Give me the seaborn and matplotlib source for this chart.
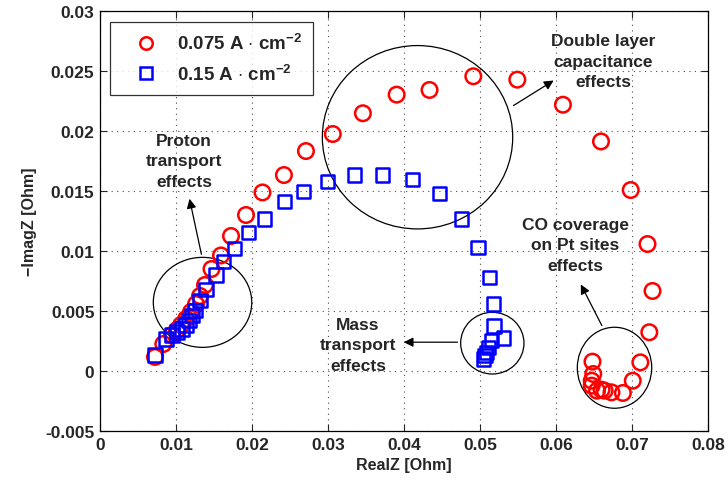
import matplotlib
matplotlib.use("Agg")
import matplotlib.pyplot as plt
import seaborn as sns
import pandas as pd
from matplotlib.patches import Ellipse
from matplotlib.lines import Line2D

# ---- data ----
red_x = [0.00724, 0.00833, 0.00947, 0.01013, 0.01066, 0.01132, 0.01197, 0.01263, 0.01316, 0.01382,
         0.01467, 0.01592, 0.01724, 0.01921, 0.02138, 0.02420, 0.02710, 0.03063, 0.03459, 0.03903,
         0.04336, 0.04912, 0.05491, 0.06091, 0.06592, 0.06983, 0.07204, 0.07270, 0.07228, 0.07110,
         0.07010, 0.06880, 0.06730, 0.06640, 0.06600, 0.06540, 0.06470, 0.06470, 0.06490, 0.06480]
red_y = [0.00117, 0.00225, 0.00300, 0.00342, 0.00383, 0.00433, 0.00492, 0.00558, 0.00625, 0.00717,
         0.00850, 0.00963, 0.01125, 0.01300, 0.01488, 0.01633, 0.01833, 0.01975, 0.02148, 0.02303,
         0.02342, 0.02456, 0.02428, 0.02219, 0.01913, 0.01508, 0.01058, 0.00667, 0.00323, 0.00072,
         -0.00081, -0.00183, -0.00178, -0.00164, -0.00156, -0.00164, -0.00122, -0.00081, -0.00025, 0.00078]

blue_x = [0.00724, 0.00868, 0.00947, 0.01013, 0.01079, 0.01132, 0.01171, 0.01210, 0.01250, 0.01316,
          0.01395, 0.01526, 0.01625, 0.01771, 0.01955, 0.02168, 0.02430, 0.02680, 0.02993, 0.03346,
          0.03713, 0.04109, 0.04468, 0.04760, 0.04974, 0.05122, 0.05175, 0.05184, 0.05309, 0.05154,
          0.05110, 0.05088, 0.05066, 0.05043]
blue_y = [0.00133, 0.00267, 0.00300, 0.00325, 0.00350, 0.00383, 0.00419, 0.00461, 0.00503, 0.00586,
          0.00678, 0.00800, 0.00913, 0.01023, 0.01156, 0.01267, 0.01413, 0.01498, 0.01581, 0.01633,
          0.01633, 0.01594, 0.01478, 0.01267, 0.01029, 0.00781, 0.00558, 0.00375, 0.00275, 0.00253,
          0.00198, 0.00156, 0.00128, 0.00100]

series_labels = [r"0.075 A $\cdot$ cm$^{-2}$", r"0.15 A $\cdot$ cm$^{-2}$"]
x_ticks = [0, 0.01, 0.02, 0.03, 0.04, 0.05, 0.06, 0.07, 0.08]
x_ticklabels = ["0", "0.01", "0.02", "0.03", "0.04", "0.05", "0.06", "0.07", "0.08"]
y_ticks = [-0.005, 0, 0.005, 0.01, 0.015, 0.02, 0.025, 0.03]
y_ticklabels = ["-0.005", "0", "0.005", "0.01", "0.015", "0.02", "0.025", "0.03"]

# ---- style ----
sns.set_style("ticks")
plt.rcParams["font.family"] = ["Liberation Sans", "DejaVu Sans"]
plt.rcParams["font.weight"] = "bold"
plt.rcParams["mathtext.fontset"] = "custom"
plt.rcParams["mathtext.rm"] = "Liberation Sans:bold"
plt.rcParams["mathtext.bf"] = "Liberation Sans:bold"
plt.rcParams["mathtext.it"] = "Liberation Sans:bold"
plt.rcParams["mathtext.default"] = "bf"

fig = plt.figure(figsize=(7.28, 4.81), dpi=100)
ax = fig.add_axes([100/728, 1-432/481, 608/728, 420/481])

df_red = pd.DataFrame({"x": red_x, "y": red_y})
df_blue = pd.DataFrame({"x": blue_x, "y": blue_y})

sns.scatterplot(data=df_red, x="x", y="y", ax=ax, marker="o", s=125,
                facecolor="none", edgecolor="#ff0000", linewidth=1.8, zorder=3)
sns.scatterplot(data=df_blue, x="x", y="y", ax=ax, marker="s", s=90,
                facecolor="none", edgecolor="#0000ff", linewidth=1.8, zorder=3)

ax.set_xlim(0, 0.08)
ax.set_ylim(-0.005, 0.03)
ax.set_xticks(x_ticks)
ax.set_xticklabels(x_ticklabels)
ax.set_yticks(y_ticks)
ax.set_yticklabels(y_ticklabels)
ax.tick_params(direction="in", top=True, right=True, labelsize=12.5, length=5, width=0.8, pad=4)
for lab in ax.get_xticklabels() + ax.get_yticklabels():
    lab.set_fontweight("bold")
ax.grid(True, linestyle=(0, (1, 4)), color="0.3", linewidth=0.8)
for sp in ax.spines.values():
    sp.set_linewidth(0.9)
    sp.set_color("black")

ax.set_xlabel("RealZ [Ohm]", fontsize=11.5, fontweight="bold", labelpad=4)
ax.set_ylabel("\u2212ImagZ [Ohm]", fontsize=11.5, fontweight="bold", labelpad=6)

# ---- legend ----
handles = [Line2D([], [], marker="o", linestyle="none", markerfacecolor="none",
                  markeredgecolor="#ff0000", markeredgewidth=1.8, markersize=9),
           Line2D([], [], marker="s", linestyle="none", markerfacecolor="none",
                  markeredgecolor="#0000ff", markeredgewidth=1.8, markersize=8)]
leg = ax.legend(handles, series_labels, loc="upper left", bbox_to_anchor=(10/608, 1-11/420),
                borderaxespad=0, fontsize=13.5, frameon=True, fancybox=False, edgecolor="black",
                handletextpad=0.35, borderpad=0.6, labelspacing=0.55, handlelength=2.6)
leg.get_frame().set_linewidth(0.9)
for t in leg.get_texts():
    t.set_fontweight("bold")

# ---- annotations ----
ell_kw = dict(fill=False, edgecolor="black", linewidth=0.9, zorder=2)
ax.add_patch(Ellipse((0.01349, 0.00572), 0.01295, 0.0075, **ell_kw))
ax.add_patch(Ellipse((0.04178, 0.01948), 0.02505, 0.01528, **ell_kw))
ax.add_patch(Ellipse((0.05162, 0.00232), 0.00833, 0.00514, **ell_kw))
ax.add_patch(Ellipse((0.0677, 0.00027), 0.00979, 0.00675, **ell_kw))

arrow = dict(arrowstyle="-|>", color="black", lw=0.9, mutation_scale=14)
txt_kw = dict(fontsize=12.5, fontweight="bold", ha="center", va="center", linespacing=1.45)

ax.annotate("", xy=(0.01170, 0.01458), xytext=(0.01342, 0.00950), arrowprops=arrow)
ax.text(0.01105, 0.01750, "Proton\ntransport\neffects", **txt_kw)

ax.annotate("", xy=(0.06000, 0.02433), xytext=(0.05410, 0.02200), arrowprops=arrow)
ax.text(0.06620, 0.02583, "Double layer\ncapacitance\neffects", **txt_kw)

ax.annotate("", xy=(0.03960, 0.00240), xytext=(0.04740, 0.00240), arrowprops=arrow)
ax.text(0.03395, 0.00217, "Mass\ntransport\neffects", **txt_kw)

ax.annotate("", xy=(0.06310, 0.00742), xytext=(0.06620, 0.00358), arrowprops=arrow)
ax.text(0.06250, 0.01050, "CO coverage\non Pt sites\neffects", **txt_kw)

fig.savefig("out.png", dpi=100)
